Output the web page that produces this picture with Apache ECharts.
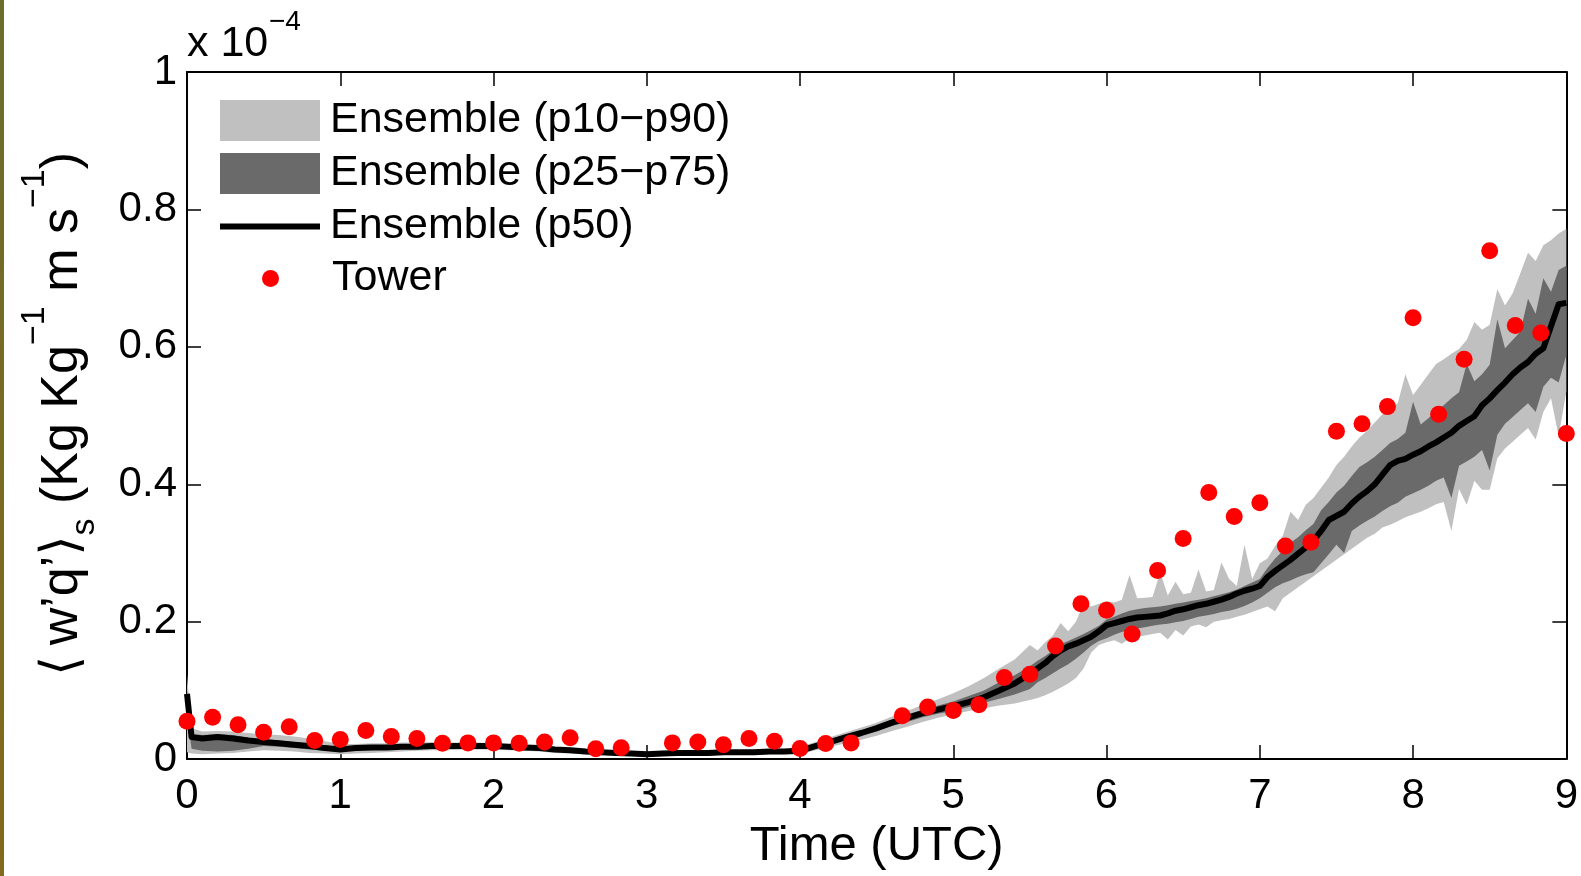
<!DOCTYPE html>
<html>
<head>
<meta charset="utf-8">
<script src="https://cdn.jsdelivr.net/npm/echarts@6/dist/echarts.min.js"></script>
<style>
html,body{margin:0;padding:0;background:#fff;}
#chart{width:1581px;height:876px;}
</style>
</head>
<body>
<div id="chart"></div>
<script>
// ---- data (units of 1e-4 Kg Kg^-1 m s^-1) ----
var times = [0, 0.03, 0.1, 0.2, 0.3, 0.4, 0.5, 0.6, 0.7, 0.8, 0.9, 1.0,
  1.1, 1.2, 1.3, 1.4, 1.5, 1.6, 1.7, 1.8, 1.9, 2.0,
  2.1, 2.2, 2.3, 2.4, 2.5, 2.6, 2.7, 2.8, 2.9, 3.0,
  3.1, 3.2, 3.3, 3.4, 3.5, 3.6, 3.7, 3.8, 3.9, 4.0,
  4.1, 4.2, 4.3, 4.4, 4.5, 4.6, 4.7, 4.8, 4.9, 5.0,
  5.1, 5.2, 5.3, 5.4, 5.5,
  5.55, 5.6, 5.65, 5.7, 5.75, 5.8, 5.85, 5.9, 5.95, 6.0,
  6.05, 6.1, 6.15, 6.2, 6.25, 6.3, 6.35, 6.4, 6.45, 6.5,
  6.55, 6.6, 6.65, 6.7, 6.75, 6.8, 6.85, 6.9, 6.95, 7.0,
  7.05, 7.1, 7.15, 7.2, 7.25, 7.3, 7.35, 7.4, 7.45, 7.5,
  7.55, 7.6, 7.65, 7.7, 7.75, 7.8, 7.85, 7.9, 7.95, 8.0,
  8.05, 8.1, 8.15, 8.2, 8.25, 8.3, 8.35, 8.4, 8.45, 8.5,
  8.55, 8.6, 8.65, 8.7, 8.75, 8.8, 8.85, 8.9, 8.95, 9.0];

var p10 = [0.010, 0.008, 0.007, 0.008, 0.009, 0.011, 0.013, 0.012, 0.011, 0.009, 0.008, 0.007,
  0.008, 0.009, 0.010, 0.011, 0.012, 0.013, 0.013, 0.014, 0.014, 0.014,
  0.013, 0.012, 0.011, 0.009, 0.008, 0.007, 0.006, 0.005, 0.004, 0.003,
  0.004, 0.005, 0.005, 0.005, 0.006, 0.006, 0.006, 0.007, 0.007, 0.007,
  0.013, 0.018, 0.023, 0.028, 0.034, 0.041, 0.047, 0.054, 0.060, 0.065,
  0.070, 0.074, 0.078, 0.081, 0.086,
  0.089, 0.093, 0.098, 0.104, 0.110, 0.118, 0.132, 0.155, 0.166, 0.170,
  0.173, 0.168, 0.176, 0.178, 0.180, 0.182, 0.184, 0.174, 0.188, 0.180,
  0.193, 0.196, 0.192, 0.200, 0.202, 0.204, 0.207, 0.210, 0.214, 0.218,
  0.222, 0.215, 0.234, 0.242, 0.250, 0.258, 0.266, 0.274, 0.282, 0.290,
  0.298, 0.306, 0.314, 0.322, 0.328, 0.337, 0.341, 0.346, 0.352, 0.356,
  0.360, 0.365, 0.371, 0.374, 0.332, 0.393, 0.370, 0.405, 0.392, 0.392,
  0.438, 0.452, 0.462, 0.472, 0.482, 0.465, 0.505, 0.525, 0.470, 0.535];

var p25 = [0.060, 0.015, 0.012, 0.011, 0.012, 0.015, 0.019, 0.018, 0.016, 0.014, 0.012, 0.011,
  0.012, 0.013, 0.014, 0.015, 0.015, 0.016, 0.016, 0.016, 0.016, 0.016,
  0.015, 0.014, 0.013, 0.011, 0.010, 0.009, 0.008, 0.007, 0.006, 0.005,
  0.006, 0.007, 0.007, 0.007, 0.008, 0.008, 0.008, 0.009, 0.009, 0.009,
  0.016, 0.022, 0.028, 0.034, 0.040, 0.048, 0.054, 0.061, 0.066, 0.070,
  0.076, 0.082, 0.088, 0.094, 0.102,
  0.112, 0.118, 0.125, 0.132, 0.138, 0.146, 0.155, 0.165, 0.172, 0.176,
  0.181, 0.185, 0.188, 0.190, 0.192, 0.194, 0.196, 0.197, 0.199, 0.201,
  0.204, 0.207, 0.209, 0.211, 0.214, 0.216, 0.219, 0.223, 0.228, 0.234,
  0.242, 0.250, 0.256, 0.260, 0.265, 0.269, 0.272, 0.285, 0.298, 0.312,
  0.300, 0.332, 0.340, 0.347, 0.353, 0.361, 0.368, 0.373, 0.382, 0.387,
  0.392, 0.398, 0.405, 0.410, 0.380, 0.427, 0.433, 0.440, 0.450, 0.420,
  0.472, 0.488, 0.498, 0.508, 0.518, 0.505, 0.542, 0.555, 0.548, 0.588];

var p50 = [0.095, 0.032, 0.030, 0.032, 0.030, 0.027, 0.025, 0.023, 0.021, 0.019, 0.016, 0.014,
  0.016, 0.017, 0.017, 0.018, 0.018, 0.019, 0.019, 0.019, 0.019, 0.019,
  0.018, 0.017, 0.016, 0.014, 0.013, 0.011, 0.010, 0.009, 0.008, 0.007,
  0.008, 0.009, 0.009, 0.009, 0.010, 0.010, 0.010, 0.011, 0.011, 0.012,
  0.019, 0.025, 0.032, 0.038, 0.045, 0.053, 0.060, 0.067, 0.072, 0.077,
  0.083, 0.090, 0.100, 0.110, 0.124,
  0.132, 0.140, 0.150, 0.158, 0.164, 0.168, 0.173, 0.178, 0.186, 0.195,
  0.198, 0.201, 0.204, 0.206, 0.207, 0.208, 0.209, 0.212, 0.216, 0.218,
  0.221, 0.224, 0.226, 0.229, 0.232, 0.236, 0.241, 0.245, 0.248, 0.252,
  0.265, 0.274, 0.282, 0.290, 0.299, 0.308, 0.318, 0.332, 0.348, 0.354,
  0.360, 0.372, 0.382, 0.390, 0.400, 0.414, 0.428, 0.434, 0.437, 0.443,
  0.448, 0.455, 0.461, 0.468, 0.475, 0.485, 0.492, 0.499, 0.515, 0.525,
  0.537, 0.548, 0.560, 0.570, 0.578, 0.590, 0.598, 0.630, 0.662, 0.664];

var p75 = [0.100, 0.037, 0.035, 0.036, 0.035, 0.031, 0.029, 0.027, 0.025, 0.022, 0.019, 0.017,
  0.019, 0.020, 0.020, 0.021, 0.021, 0.022, 0.022, 0.022, 0.021, 0.021,
  0.020, 0.019, 0.018, 0.016, 0.015, 0.013, 0.012, 0.011, 0.010, 0.009,
  0.010, 0.011, 0.011, 0.011, 0.012, 0.012, 0.012, 0.013, 0.013, 0.015,
  0.022, 0.028, 0.035, 0.042, 0.049, 0.058, 0.065, 0.072, 0.078, 0.084,
  0.092, 0.100, 0.112, 0.122, 0.135,
  0.143, 0.150, 0.158, 0.167, 0.172, 0.177, 0.182, 0.188, 0.194, 0.203,
  0.207, 0.212, 0.216, 0.218, 0.220, 0.221, 0.222, 0.224, 0.226, 0.228,
  0.230, 0.232, 0.234, 0.237, 0.240, 0.243, 0.247, 0.252, 0.257, 0.262,
  0.278, 0.292, 0.303, 0.315, 0.323, 0.333, 0.342, 0.362, 0.374, 0.388,
  0.398, 0.412, 0.425, 0.432, 0.440, 0.450, 0.460, 0.466, 0.475, 0.520,
  0.487, 0.496, 0.507, 0.515, 0.525, 0.534, 0.575, 0.550, 0.560, 0.574,
  0.640, 0.598, 0.610, 0.622, 0.670, 0.648, 0.700, 0.680, 0.712, 0.718];

var p90 = [0.123, 0.045, 0.040, 0.041, 0.040, 0.038, 0.036, 0.035, 0.033, 0.030, 0.026, 0.022,
  0.022, 0.023, 0.023, 0.024, 0.024, 0.025, 0.024, 0.024, 0.024, 0.023,
  0.022, 0.021, 0.020, 0.018, 0.017, 0.015, 0.013, 0.012, 0.011, 0.010,
  0.011, 0.012, 0.012, 0.012, 0.013, 0.013, 0.014, 0.014, 0.015, 0.018,
  0.025, 0.032, 0.039, 0.046, 0.053, 0.062, 0.070, 0.079, 0.087, 0.096,
  0.106, 0.118, 0.132, 0.145, 0.166,
  0.158, 0.170, 0.180, 0.198, 0.186, 0.200, 0.226, 0.222, 0.226, 0.230,
  0.228, 0.232, 0.268, 0.234, 0.235, 0.236, 0.272, 0.238, 0.258, 0.240,
  0.242, 0.276, 0.244, 0.246, 0.286, 0.262, 0.252, 0.312, 0.262, 0.285,
  0.292, 0.310, 0.325, 0.360, 0.348, 0.370, 0.380, 0.395, 0.410, 0.428,
  0.440, 0.455, 0.468, 0.478, 0.490, 0.502, 0.510, 0.518, 0.560, 0.530,
  0.545, 0.560, 0.575, 0.582, 0.590, 0.597, 0.610, 0.636, 0.625, 0.632,
  0.684, 0.660, 0.678, 0.707, 0.737, 0.725, 0.748, 0.755, 0.765, 0.772];

var towerTime = [0, 0.167, 0.333, 0.5, 0.667, 0.833, 1.0, 1.167, 1.333, 1.5, 1.667, 1.833,
  2.0, 2.167, 2.333, 2.5, 2.667, 2.833, 3.167, 3.333, 3.5, 3.667, 3.833,
  4.0, 4.167, 4.333, 4.667, 4.833, 5.0, 5.167, 5.333, 5.5, 5.667, 5.833,
  6.0, 6.167, 6.333, 6.5, 6.667, 6.833, 7.0, 7.167, 7.333, 7.5, 7.667, 7.833,
  8.0, 8.167, 8.333, 8.5, 8.667, 8.833, 9.0];
var towerValue = [0.055, 0.061, 0.050, 0.039, 0.047, 0.027, 0.0285, 0.0415, 0.033, 0.030, 0.023, 0.0236,
  0.0236, 0.023, 0.025, 0.031, 0.015, 0.0164, 0.0236, 0.025, 0.0208, 0.030, 0.026,
  0.0155, 0.0227, 0.0236, 0.063, 0.0757, 0.0709, 0.079, 0.1187, 0.1235, 0.1645, 0.226,
  0.2166, 0.182, 0.2745, 0.321, 0.388, 0.353, 0.373, 0.310, 0.3155, 0.477, 0.488, 0.513,
  0.6425, 0.502, 0.582, 0.740, 0.631, 0.620, 0.474];

var seriesNames = ['Ensemble (p10\u2212p90)', 'Ensemble (p25\u2212p75)', 'Ensemble (p50)', 'Tower'];
var xRange = [0, 9];
var yRange = [0, 1];

// ---- chart ----
var FONT = '"Liberation Sans", Arial, Helvetica, "DejaVu Sans", sans-serif';
var LIGHT = '#c0c0c0', DARK = '#6a6a6a';

function zip(xs, ys) { var o = []; for (var i = 0; i < xs.length; i++) o.push([xs[i], ys[i]]); return o; }

function bandRender(lo, hi, color) {
  return function (params, api) {
    if (params.dataIndex !== 0) return null;
    var pts = [];
    for (var i = 0; i < times.length; i++) pts.push(api.coord([times[i], hi[i]]));
    for (var j = times.length - 1; j >= 0; j--) pts.push(api.coord([times[j], lo[j]]));
    return { type: 'polygon', shape: { points: pts }, style: { fill: color, stroke: null } };
  };
}

var chart = echarts.init(document.getElementById('chart'), null, { renderer: 'canvas' });

var axisCommon = {
  type: 'value',
  axisLine: { show: true, onZero: false, lineStyle: { color: '#000', width: 2 } },
  axisTick: { show: true, inside: true, length: 14, lineStyle: { color: '#000', width: 1.5 } },
  splitLine: { show: false }
};

var option = {
  animation: false,
  backgroundColor: '#fff',
  textStyle: { fontFamily: FONT },
  grid: { left: 187, top: 72, right: 12, bottom: 113, containLabel: false },
  xAxis: [
    Object.assign({}, axisCommon, {
      position: 'bottom', min: xRange[0], max: xRange[1], interval: 1,
      axisLabel: { color: '#000', fontSize: 42, fontFamily: FONT, margin: 16 },
      name: 'Time (UTC)', nameLocation: 'middle', nameGap: 57,
      nameTextStyle: { color: '#000', fontSize: 49, fontFamily: FONT }
    }),
    Object.assign({}, axisCommon, {
      position: 'top', min: xRange[0], max: xRange[1], interval: 1,
      axisLabel: { show: false }
    })
  ],
  yAxis: [
    Object.assign({}, axisCommon, {
      position: 'left', min: yRange[0], max: yRange[1], interval: 0.2,
      axisLabel: { color: '#000', fontSize: 42, fontFamily: FONT, margin: 10 }
    }),
    Object.assign({}, axisCommon, {
      position: 'right', min: yRange[0], max: yRange[1], interval: 0.2,
      axisLabel: { show: false }
    })
  ],
  legend: [
    {
      orient: 'vertical', left: 220, top: 99, padding: 0,
      itemWidth: 100, itemHeight: 41, itemGap: 10,
      symbolKeepAspect: true,
      textStyle: { color: '#000', fontSize: 43, fontFamily: FONT, padding: [0, 0, 0, 5] },
      data: [
        { name: seriesNames[0], icon: 'rect' },
        { name: seriesNames[1], icon: 'rect' },
        { name: seriesNames[2], icon: 'path://M0,0L100,0L100,6L0,6Z' }
      ],
      selectedMode: false
    },
    {
      orient: 'vertical', left: 262, top: 257, padding: 0,
      itemWidth: 17, itemHeight: 17,
      textStyle: { color: '#000', fontSize: 43, fontFamily: FONT, padding: [0, 0, 0, 48] },
      data: [{ name: seriesNames[3], icon: 'circle' }],
      selectedMode: false
    }
  ],
  graphic: [
    {
      type: 'rect', left: 0, top: 0, silent: true, z: 100,
      shape: { width: 4, height: 876 },
      style: { fill: new echarts.graphic.LinearGradient(0, 0, 0, 1, [
        { offset: 0, color: '#6c6c2c' }, { offset: 1, color: '#836a1c' }]) }
    },
    {
      type: 'text', x: 187, y: 44, silent: true,
      style: { text: 'x 10', fill: '#000', font: '43px ' + FONT, textAlign: 'left', textVerticalAlign: 'middle' }
    },
    {
      type: 'text', x: 269, y: 22, silent: true,
      style: { text: '\u22124', fill: '#000', font: '28px ' + FONT, textAlign: 'left', textVerticalAlign: 'middle' }
    },
    {
      type: 'text', x: 60, y: 414, rotation: Math.PI / 2, silent: true,
      style: {
        text: '{b|\u27e8\u2009w\u2019q\u2019\u27e9}{sub|s}{b| (Kg Kg}{sup|\u22121}{b| m s}{sup|\u22121}{b|)}',
        fill: '#000', textAlign: 'center', textVerticalAlign: 'middle',
        rich: {
          b: { fontSize: 52, fontFamily: FONT, color: '#000', verticalAlign: 'bottom', padding: [0, 0, 13, 0] },
          sub: { fontSize: 34, fontFamily: FONT, color: '#000', verticalAlign: 'bottom', padding: [0, 0, 0, 0] },
          sup: { fontSize: 34, fontFamily: FONT, color: '#000', verticalAlign: 'bottom', padding: [0, 0, 50, 0] }
        }
      }
    }
  ],
  series: [
    {
      name: seriesNames[0], type: 'custom', xAxisIndex: 0, yAxisIndex: 0,
      itemStyle: { color: LIGHT }, silent: true,
      renderItem: bandRender(p10, p90, LIGHT),
      data: [[times[0], p10[0]]], encode: { x: 0, y: 1 }, z: 2
    },
    {
      name: seriesNames[1], type: 'custom', xAxisIndex: 0, yAxisIndex: 0,
      itemStyle: { color: DARK }, silent: true,
      renderItem: bandRender(p25, p75, DARK),
      data: [[times[0], p25[0]]], encode: { x: 0, y: 1 }, z: 3
    },
    {
      name: seriesNames[2], type: 'line', xAxisIndex: 0, yAxisIndex: 0,
      data: zip(times, p50), showSymbol: false, symbol: 'none',
      lineStyle: { color: '#000', width: 6, join: 'round' },
      itemStyle: { color: '#000' }, silent: true, z: 4
    },
    {
      name: seriesNames[3], type: 'scatter', xAxisIndex: 0, yAxisIndex: 0,
      data: zip(towerTime, towerValue), symbol: 'circle', symbolSize: 17,
      itemStyle: { color: '#ff0000', opacity: 1 }, silent: true, z: 5
    }
  ]
};
chart.setOption(option);
</script>
</body>
</html>
